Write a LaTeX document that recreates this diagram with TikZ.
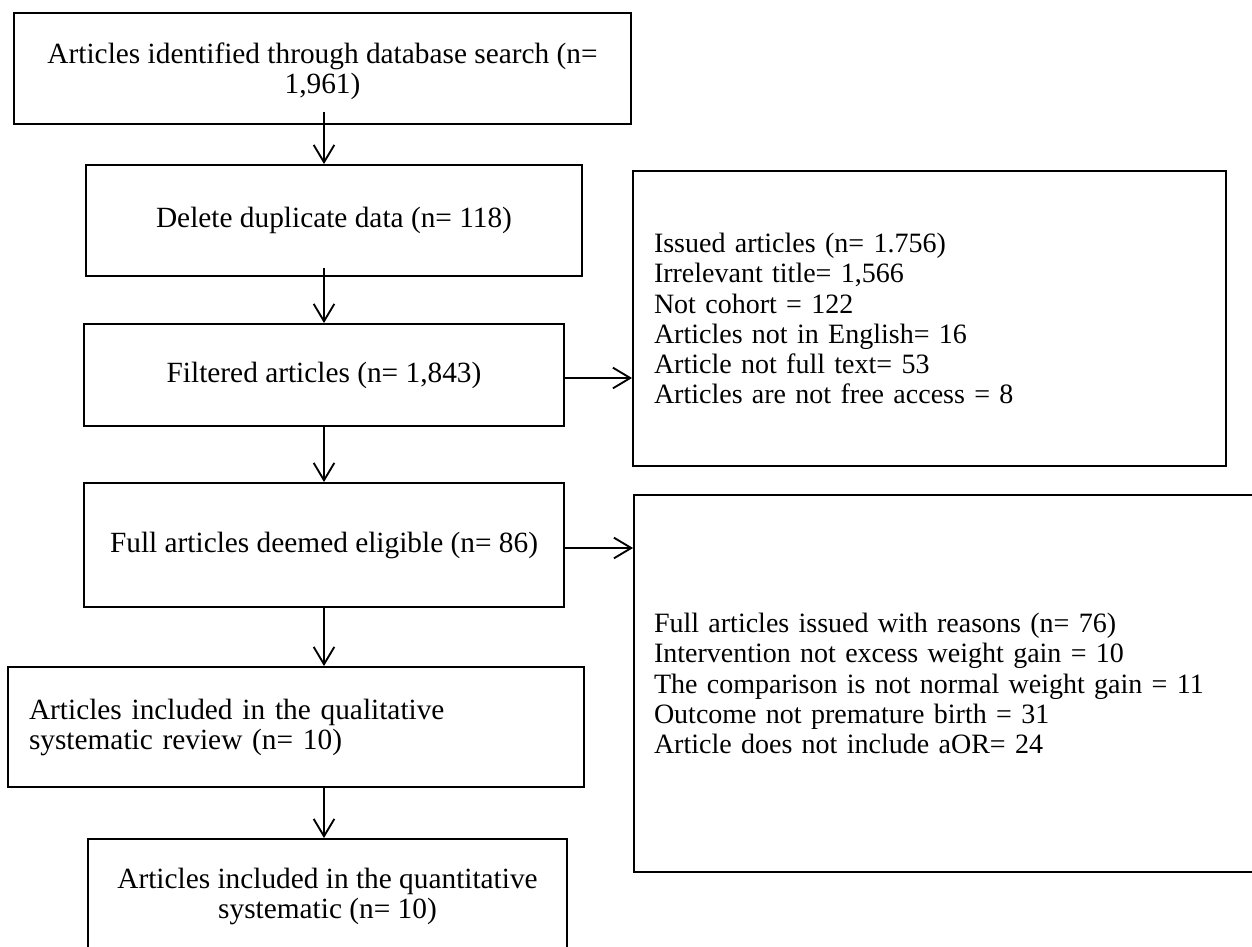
\documentclass[tikz,border=0pt]{standalone}
\usepackage{fontspec}
\setmainfont{Liberation Serif}
\usetikzlibrary{arrows.meta}
\begin{document}
\begin{tikzpicture}[x=0.75pt,y=-0.75pt,
  box/.style={draw=black, line width=1.4pt, inner sep=0pt, align=center,
    font=\fontsize{22pt}{22.5pt}\selectfont},
  lbox/.style={draw=black, line width=1.4pt, inner xsep=15.75pt, inner ysep=0pt, align=left,
    font=\fontsize{21pt}{22.6pt}\selectfont},
  arr/.style={line width=1.4pt, -{Straight Barb[length=13pt,width=15.5pt,line width=1.4pt]}}]
\useasboundingbox (0,0) rectangle (1252,946);
\clip (0,0) rectangle (1252,946);
\fill[white] (0,0) rectangle (1252,946);

\node[box, minimum width=462.75pt, minimum height=83.25pt, text depth=-2.5pt] (b1) at (322.5,68.5)
  {Articles identified through database search (n=\\1,961)};
\node[box, minimum width=372pt, minimum height=83.25pt] (b2) at (334,220.5)
  {Delete duplicate data (n= 118)};
\node[box, minimum width=360pt, minimum height=76.5pt] (b3) at (324,375)
  {Filtered articles (n= 1,843)};
\node[box, minimum width=360pt, minimum height=93pt] (b4) at (324,545)
  {Full articles deemed eligible (n= 86)};
\node[lbox, font=\fontsize{22pt}{22.5pt}\selectfont, text width=400.5pt, minimum height=90pt] (b5) at (296,727)
  {Articles included in the qualitative\\systematic review (n= 10)};
\node[box, minimum width=359.25pt, minimum height=85.5pt] (b6) at (327.5,896)
  {Articles included in the quantitative\\systematic (n= 10)};

\node[lbox, text width=413.25pt, minimum height=221.25pt] (r1) at (929.5,318.5)
  {Issued articles (n= 1.756)\\Irrelevant title= 1,566\\Not cohort = 122\\Articles not in English= 16\\Article not full text= 53\\Articles are not free access = 8};
\node[lbox, inner xsep=15pt, text width=441pt, minimum height=282.75pt] (r2) at (948,683.5)
  {Full articles issued with reasons (n= 76)\\Intervention not excess weight gain = 10\\The comparison is not normal weight gain = 11\\Outcome not premature birth = 31\\Article does not include aOR= 24};

\coordinate (sp) at (324,0);
\coordinate (e3) at ([yshift=-2.25pt]b3.east);
\coordinate (e4) at ([yshift=-2.25pt]b4.east);
\draw[arr, shorten <=-9.75pt] (b1.south -| sp) -- (b2.north -| sp);
\draw[arr, shorten <=-6.75pt] (b2.south -| sp) -- (b3.north -| sp);
\draw[arr] (b3.south -| sp) -- (b4.north -| sp);
\draw[arr] (b4.south -| sp) -- (b5.north -| sp);
\draw[arr] (b5.south -| sp) -- (b6.north -| sp);
\draw[arr] (e3) -- (r1.west |- e3);
\draw[arr] (e4) -- (r2.west |- e4);
\end{tikzpicture}
\end{document}
